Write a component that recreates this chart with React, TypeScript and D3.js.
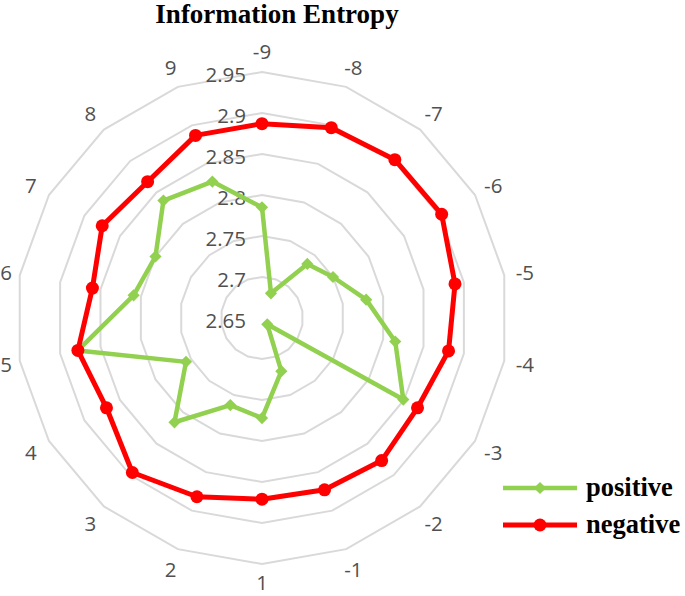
import React from "react";
import * as d3 from "d3";

const categories = ["-9", "-8", "-7", "-6", "-5", "-4", "-3", "-2", "-1", "1", "2", "3", "4", "5", "6", "7", "8", "9"];
const positiveValues = [2.785, 2.682, 2.736, 2.75, 2.779, 2.815, 2.849, 2.66, 2.719, 2.772, 2.763, 2.816, 2.757, 2.878, 2.809, 2.8, 2.837, 2.827];
const negativeValues = [2.887, 2.897, 2.902, 2.903, 2.889, 2.881, 2.869, 2.877, 2.873, 2.871, 2.882, 2.896, 2.869, 2.878, 2.86, 2.875, 2.867, 2.887];
const radialTicks = [2.65, 2.7, 2.75, 2.8, 2.85, 2.9, 2.95];
const seriesNames = ["positive", "negative"];

const W = 685;
const H = 596;
const cx = 262;
const cy = 318;
const R = 246;

export default function App() {
  const r = d3.scaleLinear().domain([2.65, 2.95]).range([0, R]);
  const ang = d3
    .scaleLinear()
    .domain([0, categories.length])
    .range([0, 2 * Math.PI]);
  const pt = (i: number, v: number): [number, number] => {
    const a = ang(i);
    const rr = r(v);
    return [cx + rr * Math.sin(a), cy - rr * Math.cos(a)];
  };
  const closedLine = d3.line<[number, number]>().curve(d3.curveLinearClosed);

  const ringPolys = radialTicks.slice(1).map((t) =>
    closedLine(categories.map((_, i) => pt(i, t)))
  );

  const posPts = positiveValues.map((v, i) => pt(i, v));
  const negPts = negativeValues.map((v, i) => pt(i, v));

  const green = "#92D050";
  const red = "#FF0000";
  const diamond = d3.symbol().type(d3.symbolDiamond2).size(95)();

  const labelR = 267;
  const labelFont = "'Open Sans', sans-serif";
  const labelSize = 20.5;
  const labelColor = "#505050";

  return (
    <svg
      width={W}
      height={H}
      style={{ position: "absolute", left: 0, top: 0, background: "#fff" }}
    >
      <text
        x={277}
        y={23}
        textAnchor="middle"
        fontFamily="'Liberation Serif', 'Times New Roman', serif"
        fontWeight="bold"
        fontSize={27}
        fill="#000"
      >
        Information Entropy
      </text>
      {ringPolys.map((d, i) => (
        <path key={i} d={d || ""} fill="none" stroke="#D9D9D9" strokeWidth={2} />
      ))}
      {radialTicks.map((t, i) => (
        <text
          key={i}
          x={246}
          y={cy - r(t) + 2}
          textAnchor="end"
          dominantBaseline="central"
          fontFamily={labelFont}
          fontSize={labelSize}
          fill={labelColor}
        >
          {String(t)}
        </text>
      ))}
      {categories.map((c, i) => {
        const a = ang(i);
        let x = cx + labelR * Math.sin(a);
        let y = cy - labelR * Math.cos(a);
        if (x < 6) x = 6;
        if (y > 582) y = 582;
        return (
          <text
            key={c}
            x={x}
            y={y}
            textAnchor="middle"
            dominantBaseline="central"
            fontFamily={labelFont}
            fontSize={labelSize}
            fill={labelColor}
          >
            {c}
          </text>
        );
      })}
      <path d={closedLine(posPts) || ""} fill="none" stroke={green} strokeWidth={4.5} strokeLinejoin="round" />
      {posPts.map((p, i) => (
        <path key={i} d={diamond || ""} transform={`translate(${p[0]},${p[1]})`} fill={green} />
      ))}
      <path d={closedLine(negPts) || ""} fill="none" stroke={red} strokeWidth={5} strokeLinejoin="round" />
      {negPts.map((p, i) => (
        <circle key={i} cx={p[0]} cy={p[1]} r={6.5} fill={red} />
      ))}
      {seriesNames.map((name, i) => {
        const y = 488 + i * 37;
        const col = i === 0 ? green : red;
        return (
          <g key={name}>
            <line x1={503} x2={577} y1={y} y2={y} stroke={col} strokeWidth={i === 0 ? 4.5 : 5} />
            {i === 0 ? (
              <path d={diamond || ""} transform={`translate(540,${y})`} fill={col} />
            ) : (
              <circle cx={540} cy={y} r={6.5} fill={col} />
            )}
            <text
              x={586}
              y={y + 8}
              fontFamily="'Liberation Serif', 'Times New Roman', serif"
              fontWeight="bold"
              fontSize={26.5}
              fill="#000"
            >
              {name}
            </text>
          </g>
        );
      })}
    </svg>
  );
}
